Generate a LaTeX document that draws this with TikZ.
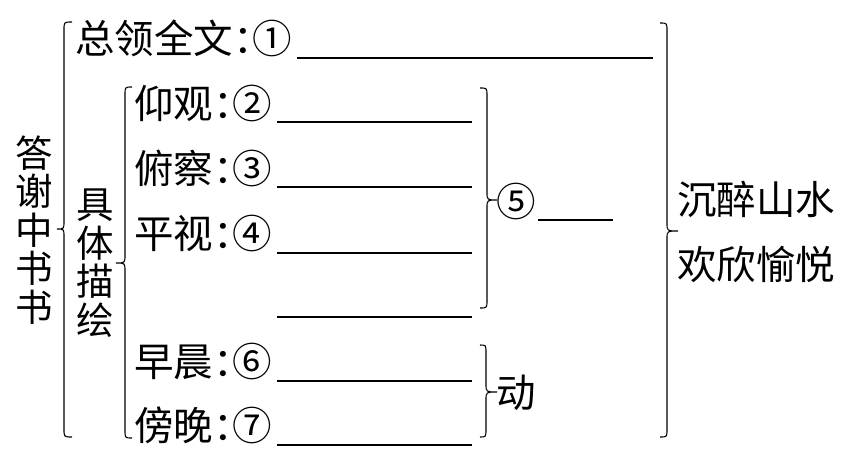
\documentclass[tikz,border=0pt]{standalone}
\usepackage{fontspec}
\newfontfamily\cjk[RawFeature=+halt]{Noto Sans CJK SC}
\newcommand\mybraceL[6]{% ends x, spine x, tip x, top y, mid y, bottom y
  \draw[bracestyle] (#1,#4) .. controls (#2,#4) .. (#2,{#4+8}) -- (#2,{#5-8})
    .. controls (#2,#5) .. (#3,#5) .. controls (#2,#5) .. (#2,{#5+8})
    -- (#2,{#6-8}) .. controls (#2,#6) .. (#1,#6);}
\begin{document}
\begin{tikzpicture}[x=1pt,y=-1pt,
  txt/.style={font=\cjk\fontsize{39.5}{41}\selectfont,inner sep=0pt},
  vtxt/.style={font=\cjk\fontsize{37.5}{38.5}\selectfont,inner sep=0pt,align=center},
  blank/.style={line width=1.2pt},
  bracestyle/.style={line width=1.1pt}]
\fill[white] (0,0) rectangle (855,472);
\useasboundingbox (0,0) rectangle (855,472);
% vertical titles
\node[vtxt] (title) at (34,230) {答\\谢\\中\\书\\书};
\node[vtxt] (desc) at (95,263) {具\\体\\描\\绘};
% rows
\node[txt,anchor=west] (r1) at (75,38) {总领全文：①};
\node[txt,anchor=west] (r2) at (134,103) {仰观：②};
\node[txt,anchor=west] (r3) at (134,168) {俯察：③};
\node[txt,anchor=west] (r4) at (134,233) {平视：④};
\node[txt,anchor=west] (r6) at (134,361) {早晨：⑥};
\node[txt,anchor=west] (r7) at (134,425) {傍晚：⑦};
\node[txt] (n5) at (516,201) {⑤};
\node[txt] (dong) at (516,393) {动};
\node[txt] (c1) at (756,199) {沉醉山水};
\node[txt] (c2) at (756,264) {欢欣愉悦};
% blanks
\draw[blank] (297,58) -- (653,58);
\foreach \yy in {122,187,253,317,381,445} \draw[blank] (277,\yy) -- (472,\yy);
\draw[blank] (538,220) -- (613,220);
% braces
\mybraceL{72}{64}{57}{22}{229}{437}
\mybraceL{132}{125}{116}{87}{263}{438}
\mybraceL{480}{487}{497}{88}{200}{308}
\mybraceL{480}{486}{497}{345}{392}{437}
\mybraceL{660}{667}{678}{23}{231}{437}
\end{tikzpicture}
\end{document}
